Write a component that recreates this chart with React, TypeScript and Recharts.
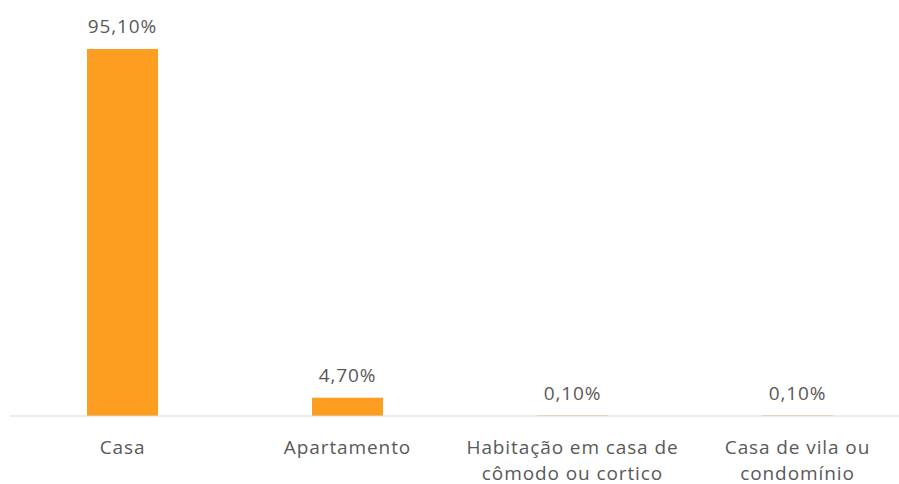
import { Bar, BarChart, LabelList, XAxis, YAxis } from "recharts";

const categories = ["Casa", "Apartamento", "Habitação em casa de cômodo ou cortico", "Casa de vila ou condomínio"];
const shares = [95.1, 4.7, 0.1, 0.1];

const data = categories.map((name, i) => ({ name, value: shares[i] }));

const FONT = "'Open Sans', sans-serif";
const TEXT = "#595959";
const SIZE = 19;
const SPACING = 0.9;

const pct = (v: number) => `${v.toFixed(2).replace(".", ",")}%`;

// greedy word wrap, ~20 chars per line like the Excel original
function wrap(label: string, max = 20) {
  const lines: string[] = [];
  let cur = "";
  for (const w of label.split(" ")) {
    const next = cur ? `${cur} ${w}` : w;
    if (next.length > max && cur) {
      lines.push(cur);
      cur = w;
    } else cur = next;
  }
  if (cur) lines.push(cur);
  return lines;
}

function CategoryTick({ x, y, payload }: { x?: number; y?: number; payload?: { value: string } }) {
  const lines = wrap(payload?.value ?? "");
  return (
    <text
      x={x}
      y={(y ?? 0) + 30}
      textAnchor="middle"
      fill={TEXT}
      fontSize={SIZE}
      fontFamily={FONT}
      letterSpacing={SPACING}
    >
      {lines.map((l, i) => (
        <tspan key={i} x={x} dy={i === 0 ? 0 : 26}>
          {l}
        </tspan>
      ))}
    </text>
  );
}

export default function App() {
  return (
    <div style={{ position: "absolute", left: 0, top: 0, width: 899, height: 484, overflow: "hidden", background: "#fff" }}>
      <BarChart width={912} height={484} data={data} margin={{ top: 30, right: 2, left: 10, bottom: 0 }}>
        <XAxis
          dataKey="name"
          interval={0}
          tick={<CategoryTick />}
          tickLine={false}
          axisLine={{ stroke: "#D9D9D9", strokeWidth: 1 }}
          height={68}
        />
        <YAxis hide domain={[0, 100]} />
        <Bar dataKey="value" fill="#FD9E21" barSize={71} isAnimationActive={false}>
          <LabelList
            dataKey="value"
            position="top"
            offset={16}
            formatter={(v: number) => pct(v)}
            style={{ fill: TEXT, fontSize: SIZE, fontFamily: FONT, letterSpacing: SPACING }}
          />
        </Bar>
      </BarChart>
    </div>
  );
}
